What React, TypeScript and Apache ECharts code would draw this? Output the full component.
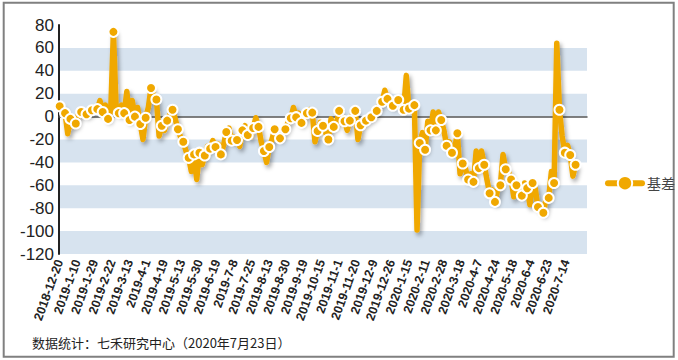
import React, { useEffect, useRef } from 'react';
import * as echarts from 'echarts';

// Tick labels shown every 13 trading days
const tickLabels = [
  '2018-12-20', '2019-1-10', '2019-1-29', '2019-2-22', '2019-3-13', '2019-4-1',
  '2019-4-19', '2019-5-13', '2019-5-30', '2019-6-19', '2019-7-8', '2019-7-25',
  '2019-8-13', '2019-8-30', '2019-9-19', '2019-10-15', '2019-11-1', '2019-11-20',
  '2019-12-9', '2019-12-26', '2020-1-15', '2020-2-11', '2020-2-28', '2020-3-18',
  '2020-4-7', '2020-4-24', '2020-5-18', '2020-6-4', '2020-6-23', '2020-7-14',
];
const LABEL_STEP = 13;
const TOTAL_DAYS = 393;

// 基差 values at marker days (every 4th trading day)
const markerValues = [
  9, 3, -2, -6, 4, 2, 5.5, 6.5, 4, -2,
  74, 3, 3, -3, 0, -6.5, -1, 25, 15, -8,
  -3.5, 6, -11, -22, -36, -33, -31.5, -34, -28, -26.5,
  -33, -13.5, -21, -20.5, -12, -16, -10, -9, -30, -26.5,
  -11, -19, -11, -1.5, -0.5, -5.5, 3, 3.5, -12.5, -8,
  -20, -9, 5, -4, -3.5, 5, -7.5, -3.5, -0.5, 5,
  13, 15.5, 9.5, 14.5, 6, 7, 10, -23, -29, -12,
  -12, -3, -25.5, -31.5, -14.5, -41, -55, -57, -45, -42,
  -67, -74.5, -60, -46, -55, -60, -69, -62.5, -58, -79,
  -84, -71, -58, 6, -31.5, -33.5, -42,
];

// 基差 values at the days in between markers
const midValues = [
  8, -15, -8, 2, 3, 4, 8, 14, 10, 5,
  8, 10, 22, 14, 8, -20, 8, 18, -17, -12,
  2, -2, -18, -30, -48, -55, -42, -26, -21, -24,
  -25, -10, -18, -26, -8, -18, -1, -22, -40, -20,
  -13, -14, -5, 8, 3, -2, 6, -22, -5, -14,
  -2, -6, 0, -12, 2, -20, -6, -2, 2, 10,
  23, 12, 15, 12, 36, 12, -99, -14, -4, 4,
  4, -12, -22, -28, -50, -45, -50, -30, -30, -55,
  -64, -64, -33, -48, -70, -64, -58, -77, -63, -80,
  -72, -48, 64, -17, -25, -52,
];

const LINE_COLOR = '#F0A800';

export default function App() {
  const ref = useRef<HTMLDivElement>(null);

  useEffect(() => {
    const chart = echarts.init(ref.current!, null, { renderer: 'svg' });
    const cats = Array.from({ length: TOTAL_DAYS }, (_, i) => 'd' + i);
    const data = cats.map((_, d) => {
      if (d % 4 === 0 && d / 4 < markerValues.length) {
        return { value: markerValues[d / 4] };
      }
      if (d % 4 === 2 && (d - 2) / 4 < midValues.length) {
        return { value: midValues[(d - 2) / 4], symbol: 'none' };
      }
      return '-';
    });

    chart.setOption({
      animation: false,
      grid: { left: 59, right: 91, top: 25, bottom: 106 },
      legend: {
        data: ['基差'],
        left: 600,
        top: 170,
        itemWidth: 34,
        itemHeight: 18,
        itemGap: 6,
        lineStyle: { width: 6, cap: 'round', shadowBlur: 0, shadowColor: 'transparent' },
        textStyle: { fontSize: 14, color: '#444', fontFamily: 'Noto Sans CJK SC' },
      },
      xAxis: [
        {
          type: 'category',
          data: cats,
          boundaryGap: true,
          position: 'bottom',
          axisLine: { show: false, onZero: false },
          axisTick: { show: false },
          splitLine: { show: false },
          axisLabel: {
            interval: LABEL_STEP - 1,
            rotate: 70,
            margin: 6,
            fontSize: 12.5,
            fontWeight: 'bold',
            color: '#222',
            fontFamily: 'Liberation Sans, Arial, sans-serif',
            formatter: (_v: string, idx: number) =>
              idx % LABEL_STEP === 0 ? tickLabels[idx / LABEL_STEP] ?? '' : '',
          },
        },
        {
          type: 'category',
          data: cats,
          position: 'top',
          axisLine: { show: true, onZero: true, lineStyle: { color: '#555', width: 1.5 } },
          axisTick: { show: false },
          axisLabel: { show: false },
          splitLine: { show: false },
        },
      ],
      yAxis: {
        type: 'value',
        min: -120,
        max: 80,
        interval: 20,
        axisLine: { show: true, lineStyle: { color: '#222', width: 2 } },
        axisTick: { show: false },
        splitLine: { show: false },
        splitArea: { show: true, areaStyle: { color: ['#D7E3EF', 'rgba(255,255,255,0)'] } },
        axisLabel: {
          fontSize: 17,
          color: '#222',
          margin: 5,
          fontFamily: 'Liberation Sans, Arial, sans-serif',
        },
      },
      series: [
        {
          type: 'line',
          name: '基差',
          data,
          connectNulls: true,
          showAllSymbol: true,
          symbol: 'circle',
          symbolSize: 10,
          lineStyle: {
            color: LINE_COLOR,
            width: 5.5,
            join: 'round',
            shadowColor: 'rgba(0,0,0,0.35)',
            shadowBlur: 4,
            shadowOffsetX: 2,
            shadowOffsetY: 3,
          },
          itemStyle: {
            color: LINE_COLOR,
            borderColor: '#fff',
            borderWidth: 2,
          },
          emphasis: { disabled: true },
        },
      ],
      graphic: [
        {
          type: 'rect',
          shape: { x: 3.7, y: 2.7, width: 670, height: 354 },
          style: { fill: 'none', stroke: '#808080', lineWidth: 2 },
          silent: true,
        },
        {
          type: 'text',
          left: 32,
          top: 336,
          style: {
            text: '数据统计：七禾研究中心（2020年7月23日）',
            fontSize: 13,
            fill: '#222',
            fontFamily: 'Noto Sans CJK SC',
          },
        },
      ],
    });
    return () => chart.dispose();
  }, []);

  return (
    <div
      ref={ref}
      style={{ position: 'absolute', left: 0, top: 0, width: 678, height: 360, background: '#fff' }}
    />
  );
}
